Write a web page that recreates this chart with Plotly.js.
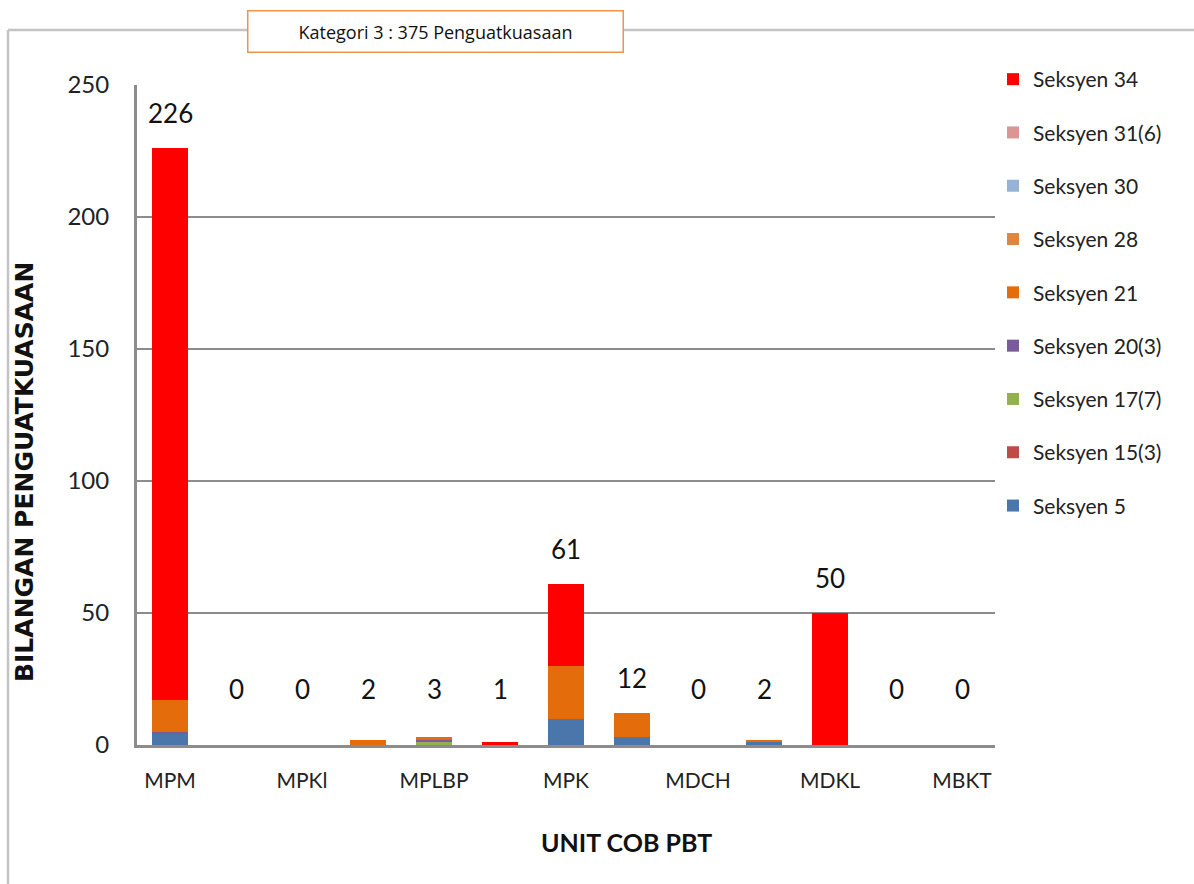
<!DOCTYPE html>
<html>
<head>
<meta charset="utf-8">
<script src="https://cdn.plot.ly/plotly-3.0.1.min.js"></script>
<style>
  html, body { margin: 0; padding: 0; background: #ffffff; }
  #chart { width: 1194px; height: 884px; }
</style>
</head>
<body>
<div id="chart"></div>
<script>
// ---- Data ----
const categories = ['MPM', 'c2', 'MPKl', 'c4', 'MPLBP', 'c6', 'MPK', 'c8', 'MDCH', 'c10', 'MDKL', 'c12', 'MBKT'];
const shownLabels = ['MPM', '', 'MPKl', '', 'MPLBP', '', 'MPK', '', 'MDCH', '', 'MDKL', '', 'MBKT'];

const seksyen5   = [4, 0, 0, 0, 0, 0, 10, 3, 0, 1, 0, 0, 0];
const seksyen15_3 = [0, 0, 0, 0, 0, 0, 0, 0, 0, 0, 0, 0, 0];
const seksyen17_7 = [0, 0, 0, 0, 1, 0, 0, 0, 0, 0, 0, 0, 0];
const seksyen20_3 = [1, 0, 0, 0, 1, 0, 0, 0, 0, 0, 0, 0, 0];
const seksyen21  = [12, 0, 0, 2, 1, 0, 20, 9, 0, 1, 0, 0, 0];
const seksyen28  = [0, 0, 0, 0, 0, 0, 0, 0, 0, 0, 0, 0, 0];
const seksyen30  = [0, 0, 0, 0, 0, 0, 0, 0, 0, 0, 0, 0, 0];
const seksyen31_6 = [0, 0, 0, 0, 0, 0, 0, 0, 0, 0, 0, 0, 0];
const seksyen34  = [209, 0, 0, 0, 0, 1, 31, 0, 0, 0, 50, 0, 0];

const seriesNames = ['Seksyen 5', 'Seksyen 15(3)', 'Seksyen 17(7)', 'Seksyen 20(3)', 'Seksyen 21',
                     'Seksyen 28', 'Seksyen 30', 'Seksyen 31(6)', 'Seksyen 34'];
const seriesValues = [seksyen5, seksyen15_3, seksyen17_7, seksyen20_3, seksyen21,
                      seksyen28, seksyen30, seksyen31_6, seksyen34];
const seriesColors = ['#4A76AB', '#BE4B48', '#92B050', '#7A5C9C', '#E46C0A',
                      '#DC8741', '#95B3D7', '#D99694', '#FF0000'];

const chartTitle = 'Kategori 3 : 375 Penguatkuasaan';
const xTitle = 'UNIT COB PBT';
const yTitle = 'BILANGAN PENGUATKUASAAN';

// ---- Build ----
const xIdx = categories.map((c, i) => i);
const totals = categories.map((c, i) => seriesValues.reduce((s, arr) => s + arr[i], 0));

const traces = seriesNames.map((name, k) => ({
  type: 'bar',
  name: name,
  x: xIdx,
  y: seriesValues[k],
  legendgroup: 'g' + k,
  legendrank: 1000 - k,
  marker: { color: seriesColors[k], line: { width: 0 } },
  hoverinfo: 'name+y'
}));

const labelFont = { family: 'Lato, "Open Sans", sans-serif', size: 26, color: '#111' };

const annotations = totals.map((t, i) => ({
  x: i, y: Math.max(t, 8), xref: 'x', yref: 'y',
  text: String(t), showarrow: false, yshift: 35,
  font: labelFont
}));

// Title box
annotations.push({
  xref: 'paper', yref: 'paper',
  x: (435 - 137) / 858, y: (745 - 31) / 660,
  xanchor: 'center', yanchor: 'middle',
  text: chartTitle, showarrow: false,
  width: 372, height: 38, borderpad: 1,
  bgcolor: '#ffffff', bordercolor: '#F0934A', borderwidth: 1.5,
  font: { family: '"Open Sans", sans-serif', size: 18, color: '#111' }
});
// Y title
annotations.push({
  xref: 'paper', yref: 'paper',
  x: (24 - 137) / 858, y: (745 - 472) / 660,
  xanchor: 'center', yanchor: 'middle', textangle: -90,
  text: '<b>' + yTitle + '</b>', showarrow: false,
  font: { family: '"DejaVu Sans", sans-serif', size: 25, color: '#111' }
});
// X title
annotations.push({
  xref: 'paper', yref: 'paper',
  x: (626 - 137) / 858, y: (745 - 842) / 660,
  xanchor: 'center', yanchor: 'middle',
  text: '<b>' + xTitle + '</b>', showarrow: false,
  font: { family: 'Lato, "Open Sans", sans-serif', size: 25, color: '#111' }
});

const px = v => (v - 137) / 858;
const py = v => (745 - v) / 660;

const layout = {
  width: 1194, height: 884,
  margin: { l: 137, r: 199, t: 85, b: 139 },
  paper_bgcolor: '#ffffff', plot_bgcolor: '#ffffff',
  barmode: 'stack',
  bargap: 0.45,
  showlegend: true,
  legend: {
    x: px(993), y: py(59), xanchor: 'left', yanchor: 'top',
    traceorder: 'grouped', tracegroupgap: 23, maxheight: 800,
    font: { family: 'Lato, "Open Sans", sans-serif', size: 21, color: '#222' },
    itemwidth: 30, bgcolor: 'rgba(0,0,0,0)'
  },
  xaxis: {
    range: [-0.5, 12.5],
    tickmode: 'array', tickvals: xIdx, ticktext: shownLabels,
    showgrid: false, zeroline: false,
    showline: true, linecolor: '#8c8c8c', linewidth: 3,
    ticks: 'outside', ticklen: 15, tickcolor: 'rgba(0,0,0,0)',
    tickfont: { family: 'Lato, "Open Sans", sans-serif', size: 21, color: '#222' },
    fixedrange: true
  },
  yaxis: {
    range: [0, 250], tickvals: [0, 50, 100, 150, 200, 250],
    showgrid: true, gridcolor: '#8c8c8c', gridwidth: 2,
    zeroline: false,
    showline: true, linecolor: '#8c8c8c', linewidth: 3,
    ticks: 'outside', ticklen: 20, tickcolor: 'rgba(0,0,0,0)',
    tickfont: { family: 'Lato, "Open Sans", sans-serif', size: 24, color: '#222' },
    fixedrange: true
  },
  annotations: annotations,
  shapes: [
    { type: 'line', xref: 'paper', yref: 'paper', x0: px(8), x1: px(1194), y0: py(30), y1: py(30),
      line: { color: '#c4c4c4', width: 2.5 }, layer: 'below' },
    { type: 'line', xref: 'paper', yref: 'paper', x0: px(8), x1: px(8), y0: py(30), y1: py(884),
      line: { color: '#c4c4c4', width: 2.5 }, layer: 'below' }
  ]
};

Plotly.newPlot('chart', traces, layout, { displayModeBar: false, staticPlot: true });
</script>
</body>
</html>
